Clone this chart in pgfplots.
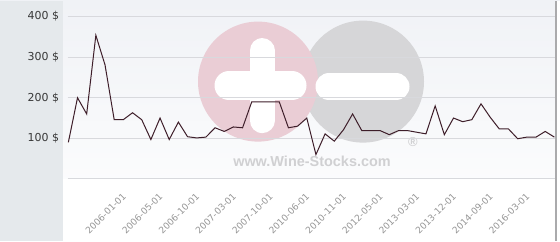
\documentclass[border=0pt]{standalone}
\usepackage{pgfplots}
\pgfplotsset{compat=1.18}
\usetikzlibrary{backgrounds}
\usepackage{fontspec}
\setmainfont{DejaVu Sans}
\newfontfamily\wmfont{Liberation Sans}
\definecolor{panelgray}{RGB}{229,233,236}
\definecolor{bgtop}{RGB}{240,242,246}
\definecolor{gridgray}{RGB}{216,217,221}
\definecolor{ylab}{RGB}{55,55,55}
\definecolor{xlab}{RGB}{150,150,150}
\definecolor{linecol}{RGB}{62,30,42}
\definecolor{wmpink}{RGB}{234,205,213}
\definecolor{wmgray}{RGB}{214,214,216}
\definecolor{wmtext}{RGB}{208,208,210}
\definecolor{edgegray}{RGB}{170,170,172}
\begin{document}
\begin{tikzpicture}
\begin{axis}[
  name=ax,
  width=487.3bp, height=162.3bp, scale only axis,
  xmin=-0.07, xmax=53.07, ymin=0, ymax=400,
  axis line style={draw=none},
  major tick length=0pt, tick style={draw=none},
  ymajorgrids, grid style={draw=gridgray, line width=1bp},
  ytick={0,100,200,300,400},
  yticklabels={,100 \$,200 \$,300 \$,400 \$},
  yticklabel style={font=\fontsize{11}{13}\selectfont, text=ylab, anchor=east, inner sep=0pt, xshift=-8.5bp},
  xtick={6,10,14,18,22,26,30,34,38,42,46,50},
  xticklabels={2006-01-01,2006-05-01,2006-10-01,2007-03-01,2007-10-01,2010-06-01,2010-11-01,2012-05-01,2013-03-01,2013-12-01,2014-09-01,2016-03-01},
  xticklabel style={font=\fontsize{9.1}{10}\selectfont, text=xlab, rotate=45, anchor=east, inner sep=0pt, xshift=1.5bp},
  xticklabel shift=17bp,
  clip=false,
]
\addplot[color=linecol, line width=1bp, mark=none] coordinates {
(0,90) (1,200) (2,160) (3,354) (4,281) (5,146) (6,146) (7,163) (8,146) (9,97)
(10,150) (11,97) (12,140) (13,104) (14,101) (15,103) (16,126) (17,117) (18,128) (19,126)
(20,190) (21,190) (22,190) (23,190) (24,126) (25,130) (26,150) (27,60) (28,111) (29,93)
(30,121) (31,160) (32,119) (33,119) (34,119) (35,109) (36,119) (37,119) (38,115) (39,111)
(40,180) (41,109) (42,150) (43,141) (44,146) (45,185) (46,152) (47,123) (48,123) (49,99)
(50,103) (51,103) (52,117) (53,103)
};
\end{axis}
\pgfresetboundingbox
\begin{scope}[on background layer, shift={(ax.south west)}, shift={(-67.7bp,-61.7bp)}, x=1bp, y=1bp]
\fill[top color=bgtop, bottom color=white] (0,0) rectangle (560,240);
\fill[white] (0,0) rectangle (560,62);
\fill[panelgray] (0,0) rectangle (62.7,240);
\fill[white] (556.5,0) rectangle (560,240);
\draw[edgegray, line width=1.2bp] (556,0) -- (556,240);
\fill[wmgray] (363,159) circle (61);
\fill[wmpink] (258,159) circle (60);
\draw[white, line width=29bp, line cap=round] (229,155) -- (292,155);
\draw[white, line width=25bp, line cap=round] (262,190) -- (262,120);
\draw[white, line width=27bp, line cap=round] (329,154) -- (396,154);
\node[text=wmtext, font=\wmfont\bfseries\fontsize{14.5}{16}\selectfont] at (312,79) {www.Wine-Stocks.com};
\node[text=wmtext, font=\wmfont\bfseries\fontsize{13}{14}\selectfont] at (413,99) {®};
\path[use as bounding box] (0,0) rectangle (560,240);
\end{scope}
\end{tikzpicture}
\end{document}
